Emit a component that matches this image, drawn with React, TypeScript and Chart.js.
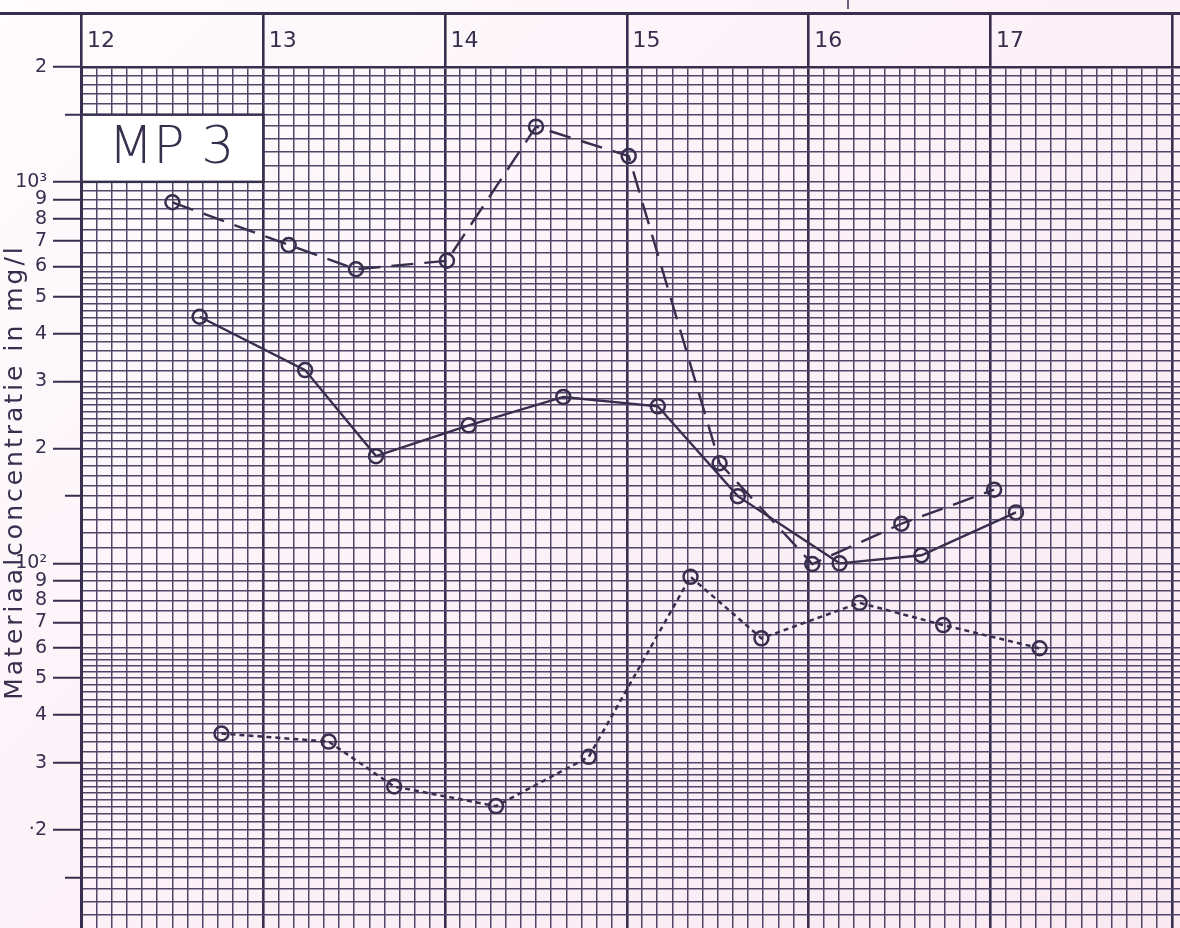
import { useEffect, useRef } from 'react';
import { Chart, registerables } from 'chart.js';

Chart.register(...registerables);

// ---------- data ----------
const dashedTimes = [12.5, 13.14, 13.51, 14.01, 14.5, 15.01, 15.51, 16.02, 16.51, 17.02];
const dashedValues = [884, 683, 590, 621, 1395, 1168, 183, 99.6, 127, 156];

const solidTimes = [12.65, 13.23, 13.62, 14.13, 14.65, 15.17, 15.61, 16.17, 16.62, 17.14];
const solidValues = [443, 321, 191, 230, 273, 258, 150, 100, 105, 136];

const dottedTimes = [12.77, 13.36, 13.72, 14.28, 14.79, 15.35, 15.74, 16.28, 16.74, 17.27];
const dottedValues = [35.8, 34.1, 26.0, 23.1, 31.1, 92.2, 63.6, 78.8, 68.9, 59.9];

// ---------- axis definitions ----------
const hourLabels = [12, 13, 14, 15, 16, 17, 18];
const minutesPerGridStep = 5;

const yLabelValues = [2000, 1000, 900, 800, 700, 600, 500, 400, 300, 200, 100, 90, 80, 70, 60, 50, 40, 30, 20];
const yLabelTexts = ['2', '10³', '9', '8', '7', '6', '5', '4', '3', '2', '10²', '9', '8', '7', '6', '5', '4', '3', '·2'];
const yShortTicks = [1500, 150, 15];
// log-paper subdivisions inside each decade: [from, to, step] on the mantissa
const logPaperSteps = [
  [1, 2, 0.1],
  [2, 3, 0.1],
  [3, 6, 0.2],
  [6, 10, 0.5],
];
const decades = [10, 100, 1000];

const yTitle = 'Materiaalconcentratie in mg/l';
const panelLabel = 'MP 3';

const X_MIN = 12;
const X_MAX = 18.0424;
const Y_MIN = 11.07;
const Y_MAX = 2000;

const INK = '#382e4e';
const GRID = '#514668';
const FONT = "'DejaVu Sans', sans-serif";

const near = (a: number, b: number) => Math.abs(a - b) < 1e-6 * Math.max(1, Math.abs(b));

function buildYGrid(): number[] {
  const out: number[] = [];
  for (const d of decades) {
    for (const [a, b, s] of logPaperSteps) {
      const n = Math.round((b - a) / s);
      for (let i = 0; i < n; i++) {
        const v = +((a + i * s) * d).toFixed(6);
        if (v >= Y_MIN && v <= Y_MAX) out.push(v);
      }
    }
  }
  if (!out.some((v) => near(v, Y_MAX))) out.push(Y_MAX);
  return out.sort((p, q) => p - q);
}

function buildXGrid(): number[] {
  const out: number[] = [];
  const perHour = 60 / minutesPerGridStep;
  const first = hourLabels[0];
  const last = hourLabels[hourLabels.length - 1];
  for (let k = 0; k <= (last - first) * perHour; k++) out.push(first + k / perHour);
  out.push(X_MAX);
  return out;
}

const isHour = (v: number) => hourLabels.some((h) => near(v, h));
const yLabelFor = (v: number) => {
  const i = yLabelValues.findIndex((t) => near(v, t));
  return i >= 0 ? yLabelTexts[i] : '';
};
const isShort = (v: number) => yShortTicks.some((t) => near(v, t));

const decor = {
  id: 'decor',
  beforeDatasetsDraw(chart: any) {
    const { ctx } = chart;
    const xs = chart.scales.x;
    const ys = chart.scales.y;
    const l = xs.getPixelForValue(12);
    const r = xs.getPixelForValue(13);
    const t = ys.getPixelForValue(1500);
    const b = ys.getPixelForValue(1000);
    ctx.save();
    ctx.fillStyle = '#ffffff';
    ctx.fillRect(l, t, r - l, b - t);
    ctx.strokeStyle = INK;
    ctx.lineWidth = 2.5;
    ctx.strokeRect(l, t, r - l, b - t);
    ctx.fillStyle = INK;
    ctx.font = `200 52px ${FONT}`;
    ctx.textAlign = 'center';
    ctx.textBaseline = 'middle';
    ctx.fillText(panelLabel, (l + r) / 2 - 1, (t + b) / 2 + 1);
    ctx.restore();

    // rotated axis title with the wide letter spacing of the original
    ctx.save();
    ctx.translate(22, 472);
    ctx.rotate(-Math.PI / 2);
    ctx.fillStyle = INK;
    ctx.font = `25px ${FONT}`;
    (ctx as any).letterSpacing = '3px';
    ctx.textAlign = 'center';
    ctx.textBaseline = 'alphabetic';
    ctx.fillText(yTitle, 0, 0);
    ctx.restore();
  },
  afterDraw(chart: any) {
    const { ctx, width } = chart;
    ctx.save();
    ctx.strokeStyle = INK;
    ctx.lineWidth = 3;
    ctx.beginPath();
    ctx.moveTo(0, 13.5);
    ctx.lineTo(width, 13.5);
    ctx.stroke();
    ctx.lineWidth = 1.5;
    ctx.beginPath();
    ctx.moveTo(848, 0);
    ctx.lineTo(848, 9);
    ctx.stroke();
    ctx.restore();
  },
};

export default function App() {
  const ref = useRef<HTMLCanvasElement>(null);

  useEffect(() => {
    const toPts = (xs: number[], ys: number[]) => xs.map((x, i) => ({ x, y: ys[i] }));
    const common = {
      borderColor: INK,
      borderWidth: 2.4,
      pointRadius: 7,
      pointBorderWidth: 2.5,
      pointBorderColor: INK,
      pointBackgroundColor: 'rgba(0,0,0,0)',
      pointStyle: 'circle',
      tension: 0,
      fill: false,
    };
    const chart = new Chart(ref.current as HTMLCanvasElement, {
      type: 'line',
      data: {
        datasets: [
          { ...common, label: 'dashed', data: toPts(dashedTimes, dashedValues), borderDash: [22, 11] },
          { ...common, label: 'solid', data: toPts(solidTimes, solidValues) },
          { ...common, label: 'dotted', data: toPts(dottedTimes, dottedValues), borderDash: [5, 4], borderWidth: 2.5 },
        ],
      },
      options: {
        animation: false,
        responsive: true,
        maintainAspectRatio: false,
        layout: { padding: 0, autoPadding: false },
        plugins: { legend: { display: false }, tooltip: { enabled: false }, title: { display: false } },
        scales: {
          x: {
            type: 'linear',
            position: 'top',
            min: X_MIN,
            max: X_MAX,
            afterBuildTicks: (scale: any) => {
              scale.ticks = buildXGrid().map((value) => ({ value }));
            },
            afterFit: (scale: any) => {
              scale.height = 67;
              scale.paddingLeft = 0;
              scale.paddingRight = 0;
            },
            ticks: {
              autoSkip: false,
              maxRotation: 0,
              minRotation: 0,
              align: 'start',
              labelOffset: 5.5,
              padding: -41,
              color: INK,
              font: { family: FONT, size: 22 },
              callback: (v: any) => (isHour(Number(v)) ? String(Math.round(Number(v))) : ''),
            },
            grid: {
              drawTicks: true,
              tickLength: 54,
              color: (c: any) => (near(c.tick.value, X_MAX) ? 'rgba(0,0,0,0)' : isHour(c.tick.value) ? INK : GRID),
              lineWidth: (c: any) => (isHour(c.tick.value) ? 2.6 : 1.5),
              tickColor: (c: any) => (isHour(c.tick.value) && !near(c.tick.value, X_MAX) ? INK : 'rgba(0,0,0,0)'),
              tickWidth: (c: any) => (isHour(c.tick.value) ? 2.6 : 0),
            },
            border: { display: true, color: INK, width: 2.5 },
          },
          y: {
            type: 'logarithmic',
            position: 'left',
            min: Y_MIN,
            max: Y_MAX,
            afterBuildTicks: (scale: any) => {
              scale.ticks = buildYGrid().map((value) => ({ value }));
            },
            afterFit: (scale: any) => {
              scale.width = 81.5;
              scale.paddingTop = 0;
              scale.paddingBottom = 0;
            },
            ticks: {
              autoSkip: false,
              padding: 6,
              color: INK,
              font: { family: FONT, size: 19 },
              callback: (v: any) => yLabelFor(Number(v)),
            },
            grid: {
              drawTicks: true,
              tickLength: 28.5,
              color: GRID,
              lineWidth: 1.5,
              tickColor: (c: any) => (yLabelFor(c.tick.value) !== '' || isShort(c.tick.value) ? INK : 'rgba(0,0,0,0)'),
              tickWidth: 2,
              tickBorderDash: (c: any) => (isShort(c.tick.value) ? [0, 12, 40] : []),
            },
            border: { display: true, color: INK, width: 3 },
            title: { display: false },
          },
        },
      },
      plugins: [decor],
    } as any);
    return () => chart.destroy();
  }, []);

  return (
    <div
      style={{
        position: 'absolute',
        left: 0,
        top: 0,
        width: 1180,
        height: 928,
        background: 'linear-gradient(135deg, #fefcfd 0%, #fcf2f8 45%, #f9e9f3 100%)',
      }}
    >
      <canvas ref={ref} />
    </div>
  );
}
